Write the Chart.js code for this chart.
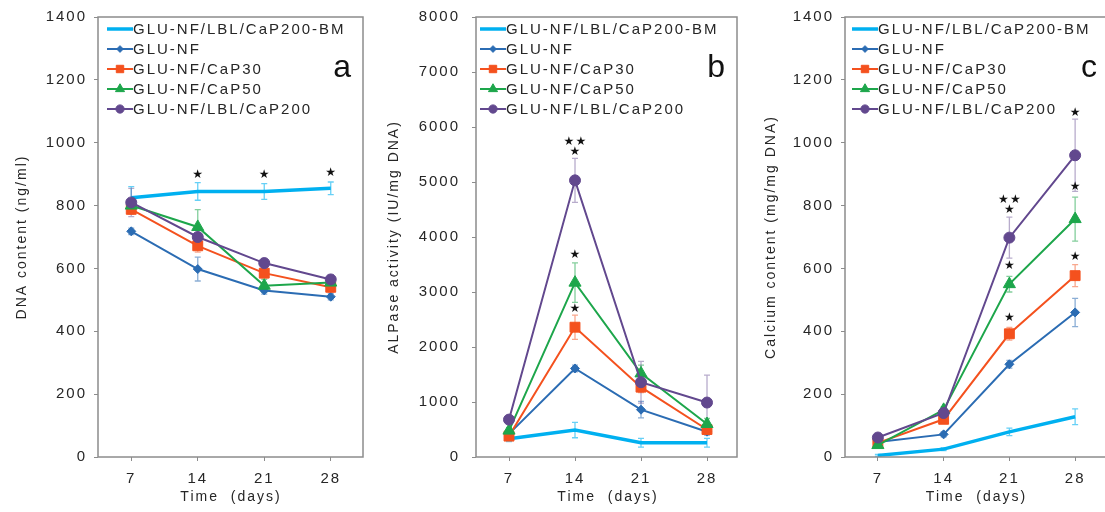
<!DOCTYPE html>
<html>
<head>
<meta charset="utf-8">
<script src="https://cdn.jsdelivr.net/npm/chart.js@4.4.1/dist/chart.umd.min.js"></script>
<style>
  body { margin: 0; background: #fff; width: 1105px; height: 512px; overflow: hidden; position: relative; }
  .panel { position: absolute; top: 0; height: 512px; }
</style>
</head>
<body>
<div class="panel" style="left:0;width:372px"><canvas id="chartA" width="372" height="512"></canvas></div>
<div class="panel" style="left:370px;width:378px"><canvas id="chartB" width="378" height="512"></canvas></div>
<div class="panel" style="left:738px;width:378px"><canvas id="chartC" width="378" height="512"></canvas></div>
<script>
var days = ['7', '14', '21', '28'];
var seriesNames = ['GLU-NF/LBL/CaP200-BM', 'GLU-NF', 'GLU-NF/CaP30', 'GLU-NF/CaP50', 'GLU-NF/LBL/CaP200'];

// a: DNA content (ng/ml)
var dnaBM = [825, 845, 845, 855];
var dnaNF = [718, 598, 530, 510];
var dnaCaP30 = [788, 672, 585, 540];
var dnaCaP50 = [800, 732, 545, 555];
var dnaLBL = [810, 700, 617, 565];
var dnaErrBM = [35, 28, 25, 20];
var dnaErrNF = [10, 38, 12, 10];
var dnaErrCaP30 = [15, 20, 15, 15];
var dnaErrCaP50 = [15, 55, 20, 15];
var dnaErrLBL = [45, 20, 15, 15];
// [series, day, value, kind]  kind 1 = one star, 3 = two stars over one
var dnaStars = [[0, 1, 898, 1], [0, 2, 898, 1], [0, 3, 905, 1]];

// b: ALPase activity (IU/mg DNA)
var alpBM = [330, 490, 260, 260];
var alpNF = [420, 1610, 860, 460];
var alpCaP30 = [380, 2360, 1270, 500];
var alpCaP50 = [480, 3170, 1520, 600];
var alpLBL = [680, 5030, 1360, 990];
var alpErrBM = [50, 140, 80, 80];
var alpErrNF = [40, 60, 150, 60];
var alpErrCaP30 = [40, 220, 100, 60];
var alpErrCaP50 = [50, 360, 150, 100];
var alpErrLBL = [60, 400, 380, 500];
var alpStars = [[4, 1, 5730, 3], [3, 1, 3670, 1], [2, 1, 2690, 1]];

// c: Calcium content (mg/mg DNA)
var calBM = [5, 25, 80, 128];
var calNF = [48, 72, 295, 460];
var calCaP30 = [45, 120, 392, 577];
var calCaP50 = [38, 150, 550, 757];
var calLBL = [62, 140, 698, 960];
var calErrBM = [3, 5, 12, 25];
var calErrNF = [5, 8, 12, 45];
var calErrCaP30 = [5, 10, 20, 35];
var calErrCaP50 = [5, 10, 25, 70];
var calErrLBL = [6, 12, 65, 115];
var calStars = [[4, 3, 1095, 1], [3, 3, 858, 1], [2, 3, 636, 1], [4, 2, 818, 3], [3, 2, 608, 1], [2, 2, 442, 1]];

var colors = ['#00B0F0', '#2B6CB3', '#F4511E', '#1DA64B', '#62488E'];
var errColors = ['rgba(0,176,240,0.6)', 'rgba(43,108,179,0.55)', 'rgba(244,81,30,0.5)', 'rgba(29,166,75,0.55)', 'rgba(98,72,142,0.45)'];
var markers = [false, 'rectRot', 'rect', 'triangle', 'circle'];
var markerSize = [0, 4.5, 7, 7, 5.5];

Chart.defaults.font.family = '"Liberation Sans", Arial, sans-serif';
Chart.defaults.font.size = 15;
Chart.defaults.color = '#262626';

var SPACING = '2px';

var decorPlugin = {
    id: 'decor',
    beforeUpdate: function (chart) {
        chart.ctx.letterSpacing = SPACING;
    },
    beforeDraw: function (chart) {
        chart.ctx.letterSpacing = SPACING;
    },
    beforeDatasetsDraw: function (chart) {
        var ctx = chart.ctx;
        var yScale = chart.scales.y;
        var errs = chart.options.plugins.decor.errors;
        ctx.save();
        chart.data.datasets.forEach(function (ds, i) {
            var meta = chart.getDatasetMeta(i);
            ctx.strokeStyle = errColors[i];
            ctx.lineWidth = 1.3;
            meta.data.forEach(function (pt, j) {
                var v = ds.data[j], e = errs[i][j];
                var top = yScale.getPixelForValue(v + e);
                var bot = yScale.getPixelForValue(Math.max(v - e, 0));
                ctx.beginPath();
                ctx.moveTo(pt.x, top); ctx.lineTo(pt.x, bot);
                ctx.moveTo(pt.x - 3, top); ctx.lineTo(pt.x + 3, top);
                ctx.moveTo(pt.x - 3, bot); ctx.lineTo(pt.x + 3, bot);
                ctx.stroke();
            });
        });
        ctx.restore();
    },
    afterDraw: function (chart) {
        var ctx = chart.ctx;
        var area = chart.chartArea;
        var opts = chart.options.plugins.decor;
        var yScale = chart.scales.y;
        ctx.save();

        // frame
        ctx.strokeStyle = '#8c8c8c';
        ctx.lineWidth = 1.5;
        ctx.strokeRect(area.left, area.top, opts.frameRight - area.left, area.bottom - area.top);

        // stars
        ctx.fillStyle = '#111';
        ctx.letterSpacing = '0px';
        ctx.font = '12px "DejaVu Sans"';
        ctx.textAlign = 'center';
        ctx.textBaseline = 'middle';
        opts.stars.forEach(function (s) {
            var x = chart.getDatasetMeta(s[0]).data[s[1]].x;
            var y = yScale.getPixelForValue(s[2]);
            if (s[3] === 3) {
                ctx.fillText('\u2605', x - 6, y);
                ctx.fillText('\u2605', x + 6, y);
                ctx.fillText('\u2605', x, y + 10);
            } else {
                ctx.fillText('\u2605', x, y);
            }
        });

        // legend
        ctx.font = '15px "Liberation Sans", Arial, sans-serif';
        ctx.letterSpacing = SPACING;
        ctx.textAlign = 'left';
        chart.data.datasets.forEach(function (ds, i) {
            var x = area.left + opts.legendX;
            var y = area.top + 12 + i * 20;
            ctx.strokeStyle = ds.borderColor;
            ctx.lineWidth = ds.borderWidth;
            ctx.beginPath();
            ctx.moveTo(x, y); ctx.lineTo(x + 26, y);
            ctx.stroke();
            if (ds.pointStyle) {
                ctx.fillStyle = ds.borderColor;
                ctx.lineWidth = 1;
                Chart.helpers.drawPoint(ctx, {pointStyle: ds.pointStyle, radius: ds.pointRadius * 0.75, borderWidth: 1, rotation: 0}, x + 13, y);
            }
            ctx.fillStyle = '#262626';
            ctx.fillText(ds.label, x + 26, y + 1);
        });

        // panel letter
        ctx.letterSpacing = '0px';
        ctx.fillStyle = '#111';
        ctx.font = '32px "Liberation Sans", Arial, sans-serif';
        ctx.textAlign = 'right';
        ctx.textBaseline = 'alphabetic';
        ctx.fillText(opts.letter, opts.frameRight - 12, 77);
        ctx.restore();
    }
};

function makePanel(canvasId, values, errors, stars, cfg) {
    var datasets = values.map(function (vals, i) {
        return {
            label: seriesNames[i],
            data: vals,
            borderColor: colors[i],
            backgroundColor: colors[i],
            borderWidth: i === 0 ? 3.5 : 2,
            pointStyle: markers[i],
            pointRadius: markerSize[i],
            pointBorderWidth: 1,
            tension: 0,
            order: 5 - i
        };
    });

    return new Chart(document.getElementById(canvasId), {
        type: 'line',
        data: { labels: days, datasets: datasets },
        options: {
            responsive: false,
            animation: false,
            layout: { padding: { left: cfg.padLeft, right: cfg.padRight, top: 17, bottom: 6 } },
            scales: {
                x: {
                    offset: true,
                    grid: { drawOnChartArea: false, drawTicks: true, tickLength: 4, color: '#8c8c8c' },
                    border: { display: false },
                    ticks: { padding: 9, color: '#262626' },
                    title: { display: true, text: 'Time  (days)', padding: 0, color: '#262626', font: { size: 14 } },
                    afterFit: function (scale) {
                        scale.height = 49;
                        scale.paddingLeft = 0;
                        scale.paddingRight = 0;
                    }
                },
                y: {
                    min: 0,
                    max: cfg.yMax,
                    grid: { drawOnChartArea: false, drawTicks: true, tickLength: 4, color: '#8c8c8c' },
                    border: { display: false },
                    ticks: {
                        stepSize: cfg.yStep,
                        padding: cfg.tickPad,
                        color: '#262626',
                        callback: function (value) { return String(value); }
                    },
                    title: { display: true, text: cfg.yTitle, padding: 0, color: '#262626', font: { size: 14 } },
                    afterFit: function (scale) {
                        scale.width = cfg.yWidth;
                        scale.paddingTop = 0;
                        scale.paddingBottom = 0;
                    }
                }
            },
            plugins: {
                legend: { display: false },
                tooltip: { enabled: false },
                decor: { errors: errors, stars: stars, letter: cfg.letter, legendX: cfg.legendX, frameRight: cfg.frameRight }
            }
        },
        plugins: [decorPlugin]
    });
}

makePanel('chartA',
    [dnaBM, dnaNF, dnaCaP30, dnaCaP50, dnaLBL],
    [dnaErrBM, dnaErrNF, dnaErrCaP30, dnaErrCaP50, dnaErrLBL],
    dnaStars,
    { yMax: 1400, yStep: 200, yTitle: 'DNA content (ng/ml)', letter: 'a', padLeft: 14, yWidth: 84, padRight: 3, tickPad: 7, legendX: 9, frameRight: 363 });

makePanel('chartB',
    [alpBM, alpNF, alpCaP30, alpCaP50, alpLBL],
    [alpErrBM, alpErrNF, alpErrCaP30, alpErrCaP50, alpErrLBL],
    alpStars,
    { yMax: 8000, yStep: 1000, yTitle: 'ALPase activity (IU/mg DNA)', letter: 'b', padLeft: 16, yWidth: 90, padRight: 2, tickPad: 12, legendX: 4, frameRight: 367 });

makePanel('chartC',
    [calBM, calNF, calCaP30, calCaP50, calLBL],
    [calErrBM, calErrNF, calErrCaP30, calErrCaP50, calErrLBL],
    calStars,
    { yMax: 1400, yStep: 200, yTitle: 'Calcium content (mg/mg DNA)', letter: 'c', padLeft: 25, yWidth: 82, padRight: 1, tickPad: 7, legendX: 7, frameRight: 371 });
</script>
</body>
</html>
